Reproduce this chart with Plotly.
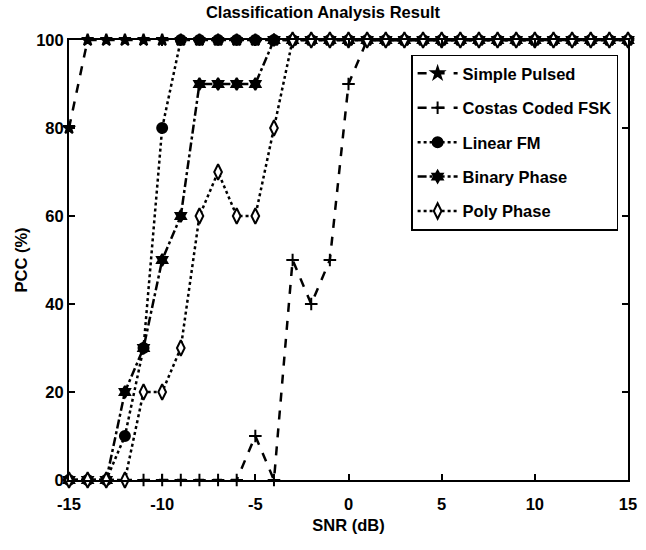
import plotly.graph_objects as go

snr = list(range(-15, 16))
simple_pulsed = [80] + [100] * 30
costas_fsk = [0] * 10 + [10, 0, 50, 40, 50, 90] + [100] * 15
linear_fm = [0, 0, 0, 10, 30, 80] + [100] * 25
binary_phase = [0, 0, 0, 20, 30, 50, 60, 90, 90, 90, 90] + [100] * 20
poly_phase = [0, 0, 0, 0, 20, 20, 30, 60, 70, 60, 60, 80] + [100] * 19

x_ticks = [-15, -10, -5, 0, 5, 10, 15]
y_ticks = [0, 20, 40, 60, 80, 100]

series = [
    ("Simple Pulsed", simple_pulsed, "dash", "star", 9, "black"),
    ("Costas Coded FSK", costas_fsk, "dash", "cross-thin", 9, "black"),
    ("Linear FM", linear_fm, "dot", "circle", 10, "black"),
    ("Binary Phase", binary_phase, "dashdot", "hexagram", 9, "black"),
    ("Poly Phase", poly_phase, "dot", "diamond-tall", 11, "white"),
]

font_main = "Liberation Sans, Arial, sans-serif"

fig = go.Figure()
for i, (name, vals, dash, sym, size, fill) in enumerate(series):
    fig.add_trace(go.Scatter(
        x=snr, y=vals, name="<b>" + name + "</b>", mode="lines+markers",
        legendgroup="g%d" % i,
        line=dict(color="black", width=2.5, dash=dash),
        marker=dict(symbol=sym, size=size, color=fill,
                    line=dict(color="black", width=2)),
        cliponaxis=False,
    ))

fig.update_layout(
    width=646, height=550,
    margin=dict(l=69, r=18, t=40, b=70),
    paper_bgcolor="white", plot_bgcolor="white",
    title=dict(text="<b>Classification Analysis Result</b>", x=0.5, xanchor="center",
               y=0.989, yanchor="top", font=dict(family=font_main, size=16.5, color="black")),
    font=dict(family=font_main, color="black"),
    legend=dict(x=0.612, y=0.967, xanchor="left", yanchor="top",
                bgcolor="white", bordercolor="black", borderwidth=1.5,
                font=dict(family=font_main, size=16.5, color="black"),
                itemwidth=40, tracegroupgap=10),
    showlegend=True,
)
fig.update_xaxes(
    range=[-15, 15], tickvals=x_ticks,
    ticktext=["<b>%d</b>" % v for v in x_ticks],
    ticks="inside", ticklen=6, tickwidth=1.5, tickcolor="black",
    showline=True, linecolor="black", linewidth=2, mirror="ticks",
    showgrid=False, zeroline=False, automargin=False,
    ticklabelstandoff=8,
    tickfont=dict(size=16.5, family=font_main, color="black"),
    title=dict(text="<b>SNR (dB)</b>", font=dict(size=16.5, family=font_main, color="black"), standoff=8),
)
fig.update_yaxes(
    range=[0, 100], tickvals=y_ticks,
    ticktext=["<b>%d</b>" % v for v in y_ticks],
    ticks="inside", ticklen=6, tickwidth=1.5, tickcolor="black",
    showline=True, linecolor="black", linewidth=2, mirror="ticks",
    showgrid=False, zeroline=False, automargin=False,
    tickfont=dict(size=16.5, family=font_main, color="black"),
    title=dict(text="<b>PCC (%)</b>", font=dict(size=16.5, family=font_main, color="black"), standoff=4),
)

fig.write_html("out.html", config={"displayModeBar": False},
               post_script="document.body.style.margin='0';")
